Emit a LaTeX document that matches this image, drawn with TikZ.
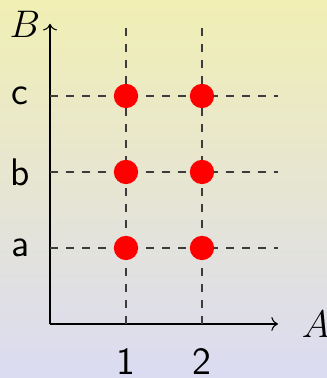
\documentclass[tikz,border=0pt]{standalone}
\usepackage{tikz}
\usetikzlibrary{arrows.meta, positioning, calc}
\definecolor{topyellow}{RGB}{241,239,180}
\definecolor{botlavender}{RGB}{219,219,242}
\definecolor{gridgray}{RGB}{60,60,60}

\begin{document}
\begin{tikzpicture}[>=To,
  axis/.style={->, thin, black},
  gridline/.style={dashed, gridgray, thin},
  dot/.style={circle, fill=red, inner sep=0pt, minimum size=0.32cm},
  lbl/.style={font=\Large\sffamily},
]

% Background
\shade[top color=topyellow, bottom color=botlavender]
  (-0.658,-0.711) rectangle (3.645,4.263);
\useasboundingbox (-0.658,-0.711) rectangle (3.645,4.263);

% Axes
\coordinate (o) at (0,0);
\coordinate (xend) at (3,0);
\coordinate (yend) at (0,3.95);
\draw[axis] (o) -- (xend);
\draw[axis] (o) -- (yend);
\node[font=\Large] (A) at (3.5,0) {$A$};
\node[font=\Large] (B) at (-0.33,3.94) {$B$};

% Grid and ticks
\foreach \x/\t in {1/1, 2/2} {
  \coordinate (vb\x) at (\x,0);
  \coordinate (vt\x) at (\x,3.9);
  \draw[gridline] (vb\x) -- (vt\x);
  \node[lbl] (tx\x) at (\x,-0.5) {\t};
}
\foreach \y/\t in {1/a, 2/b, 3/c} {
  \coordinate (hl\y) at (0,\y);
  \coordinate (hr\y) at (3,\y);
  \draw[gridline] (hl\y) -- (hr\y);
  \node[lbl] (ty\y) at (-0.39,\y) {\t};
}

% Points
\foreach \x in {1,2}
  \foreach \y in {1,2,3}
    \node[dot] (p\x\y) at (\x,\y) {};

\end{tikzpicture}
\end{document}
